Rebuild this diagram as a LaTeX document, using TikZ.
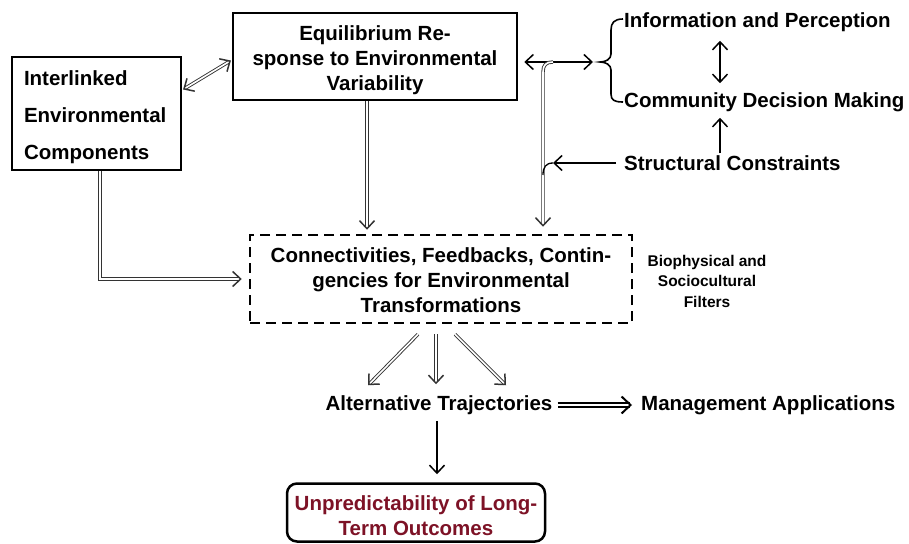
\documentclass[tikz,border=0pt]{standalone}
\usepackage{fontspec}
\setmainfont{Liberation Sans}
\usetikzlibrary{arrows.meta,calc}
\definecolor{darkred}{RGB}{125,18,38}
\begin{document}
\begin{tikzpicture}[x=1pt,y=-1pt,
  >={Straight Barb[length=8pt,width=15pt,line width'=1.5pt]},
  font=\fontsize{20.5}{25}\selectfont\bfseries,
  box/.style={draw,line width=2.5pt,align=center,inner sep=0pt},
  txt/.style={inner sep=0pt},
  dbl/.style={double,double distance=1.6pt,line width=0.9pt,draw=black!80},
  sgl/.style={line width=1.3pt},
  brace/.style={line width=1.6pt}
]
\useasboundingbox (0,0) rectangle (909,543);

% boxes
\node[box, minimum width=169pt, minimum height=113pt, text width=145pt, align=left,
      font=\fontsize{20.5}{37}\selectfont\bfseries] (int) at (96.5,113.5)
      {\strut\\[-40pt]Interlinked\\Environmental\\Components};
\node[box, minimum width=284pt, minimum height=87pt] (eq) at (375,56.5)
      {\strut\\[-19.5pt]Equilibrium Re-\\sponse to Environmental\\Variability};
\node[box, dash pattern=on 10pt off 6pt, minimum width=382pt, minimum height=88pt] (dash) at (441,279)
      {\strut\\[-24.5pt]Connectivities, Feedbacks, Contin-\\gencies for Environmental\\Transformations};
\node[box, rounded corners=10pt, minimum width=258pt, minimum height=58pt, text=darkred] (unp) at (416,512.5)
      {\strut\\[-21.5pt]Unpredictability of Long-\\Term Outcomes};

% text nodes
\node[txt, anchor=west] (info) at (624,22) {Information and Perception};
\node[txt, anchor=west] (comm) at (624,102) {Community Decision Making};
\node[txt, anchor=west] (sc) at (624,163) {Structural Constraints};
\node[txt] (alt) at (439,405) {Alternative Trajectories};
\node[txt, anchor=west] (mgmt) at (641,405) {Management Applications};
\node[txt, align=center, font=\fontsize{15.5}{20.5}\selectfont\bfseries] (bio) at (707,281)
      {Biophysical and\\Sociocultural\\Filters};

% helper coordinates
\coordinate (vx) at (720,0);
\coordinate (brt) at (593,62);
\coordinate (jn) at (553,62);
\coordinate (vl) at (543,72);
\coordinate (sh) at (553,163);

% brace
\draw[brace] (623,19) .. controls (614,19) and (611,23) .. (611,30) -- (611,54)
  .. controls (611,59) and (606,62) .. (600,62)
  .. controls (606,62) and (611,65) .. (611,70) -- (611,94)
  .. controls (611,100) and (614,102) .. (623,102);

% connectors
\draw[dbl,<->,shorten <=1pt,shorten >=1pt] ([yshift=23.5pt]int.east) -- ([yshift=-3.5pt]eq.west);
\draw[dbl,->,shorten >=4pt] ([xshift=-8pt]eq.south) -- ([xshift=-8pt]eq.south |- dash.north);
\draw[sgl,<->] ([shift={(6pt,-5.5pt)}]eq.east) -- (brt);
\draw[dbl,->,shorten >=7pt] (jn) .. controls (546,62) and (543,65) .. (vl) -- (vl |- dash.north);
\draw[sgl,->,shorten <=8pt] (sc.west) -- (sh);
\draw[sgl] (sh) .. controls (546,163) and (543,167) .. (543,175);
\draw[sgl,<->,shorten <=9pt,shorten >=9pt] (info.south -| vx) -- (comm.north -| vx);
\draw[sgl,->,shorten <=2pt,shorten >=6pt] (sc.north -| vx) -- (comm.south -| vx);
\draw[dbl,->,shorten >=7pt] ([xshift=3.5pt]int.south) |- (dash.west);
\draw[dbl,->] ([shift={(-23pt,-10pt)}]dash.south) -- ([shift={(-71pt,10pt)}]alt.north);
\draw[dbl,->] ([shift={(-5pt,-10pt)}]dash.south) -- ([shift={(-3pt,11pt)}]alt.north);
\draw[dbl,->] ([shift={(14pt,-10pt)}]dash.south) -- ([shift={(67pt,10pt)}]alt.north);
\draw[double,double distance=2.4pt,line width=1.4pt,
      -{Straight Barb[length=9pt,width=17pt,line width'=2pt]},
      shorten <=5pt,shorten >=9pt] (alt.east) -- (mgmt.west);
\draw[sgl,->,shorten <=6pt,shorten >=8pt] ([xshift=-2pt]alt.south) -- ([xshift=-2pt]alt.south |- unp.north);
\end{tikzpicture}
\end{document}
